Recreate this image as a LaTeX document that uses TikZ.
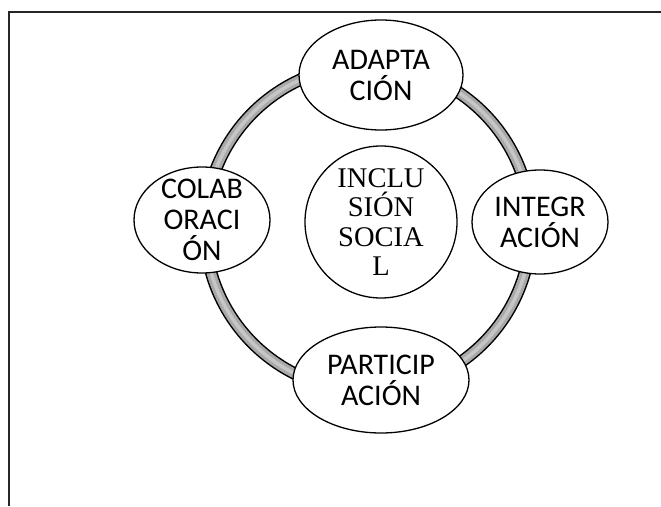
\documentclass[tikz,border=0pt]{standalone}
\usepackage{fontspec}
\setmainfont{Liberation Serif}
\newfontfamily\calib{Carlito}
\usetikzlibrary{shapes.geometric}
\definecolor{ringgray}{HTML}{A9A9A9}
\definecolor{ringlight}{HTML}{C6C6C6}
\tikzset{
  oval/.style={draw, ellipse, fill=white, line width=1.3pt, inner sep=0pt},
  ovaltext/.style={align=center, inner sep=0pt, font=\calib\fontsize{30}{31}\selectfont},
  centertext/.style={align=center, inner sep=0pt, font=\fontsize{28.5}{29.5}\selectfont},
  frameline/.style={line width=2pt, draw=black!85}
}
\begin{document}
\begin{tikzpicture}[x=1pt,y=-1pt]
\useasboundingbox (0,0) rectangle (661,506);
% frame
\coordinate (fbl) at (9,506);
\coordinate (ftl) at (9,12);
\coordinate (ftr) at (661,12);
\draw[frameline] (fbl) -- (ftl) -- (ftr);
% ring
\coordinate (rc) at (368,228);
\draw[line width=12.5pt, black] (rc) circle[radius=163];
\draw[line width=9.5pt, ringgray] (rc) circle[radius=163];
\draw[line width=3.5pt, ringlight] (rc) circle[radius=163];
% nodes
\node[oval, minimum width=164, minimum height=110] (adapt) at (381,75) {};
\node[ovaltext] at (adapt) {ADAPTA\\CIÓN};
\node[oval, minimum width=136, minimum height=106] (colab) at (202,220) {};
\node[ovaltext] at (colab) {COLAB\\ORACI\\ÓN};
\node[oval, minimum width=136, minimum height=104] (integ) at (540,222) {};
\node[ovaltext] at (integ) {INTEGR\\ACIÓN};
\node[oval, minimum width=176, minimum height=106] (parti) at (381,380) {};
\node[ovaltext] at (parti) {PARTICIP\\ACIÓN};
\node[draw, circle, fill=white, line width=1.3pt, minimum size=152, inner sep=0pt] (incl) at (381,222) {};
\node[centertext] at (incl) {INCLU\\SIÓN\\SOCIA\\L};
\end{tikzpicture}
\end{document}
